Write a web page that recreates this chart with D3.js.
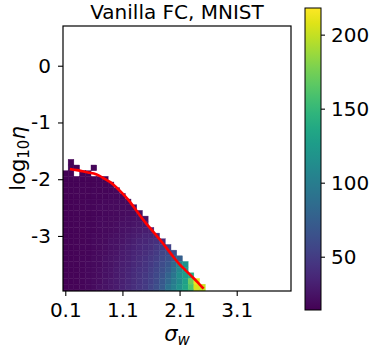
<!DOCTYPE html>
<html>
<head>
<meta charset="utf-8">
<script src="https://cdn.jsdelivr.net/npm/d3@7"></script>
<style>
body{margin:0;background:#fff;}
text{font-family:"DejaVu Sans",sans-serif;fill:#000;}
</style>
</head>
<body>
<svg id="chart" width="372" height="348"></svg>
<script>
// grid columns (sigma_w) and rows (log10 eta), rows listed top -> bottom
var sigmas = [0.1,0.2,0.3,0.4,0.5,0.6,0.7,0.8,0.9,1.0,1.1,1.2,1.3,1.4,1.5,1.6,1.7,1.8,1.9,2.0,2.1,2.2,2.3,2.4,2.5]
var etaRows = [-1.7,-1.8,-1.9,-2.0,-2.1,-2.2,-2.3,-2.4,-2.5,-2.6,-2.7,-2.8,-2.9,-3.0,-3.1,-3.2,-3.3,-3.4,-3.5,-3.6,-3.7,-3.8,-3.9,-4.0]
var _ = null
var counts = [
 [_,16],
 [_,16,15,_,_,17],
 [15,15,_,15,15],
 [15,15,16,15,16,16,17,16],
 [15,15,15,16,16,16,17,16,17],
 [15,15,16,16,16,17,16,17,17,18],
 [15,15,16,16,16,17,17,17,18,18,18],
 [15,15,16,16,17,17,17,18,18,19,19,19],
 [15,15,16,16,17,17,18,18,19,19,20,20,20],
 [15,15,16,16,16,17,17,18,18,19,20,21,21,22],
 [15,15,16,16,16,17,18,18,19,19,21,22,23,24,24],
 [15,15,16,16,17,17,18,19,19,21,22,23,25,26,27],
 [15,15,16,16,17,17,18,19,20,21,23,25,27,28,30,31],
 [15,15,16,16,17,18,18,20,21,22,24,27,29,31,34,35,37],
 [15,15,16,16,17,18,19,20,22,23,25,28,31,34,36,39,42,40],
 [15,15,16,17,17,18,19,21,22,24,27,30,33,36,38,41,46,50,54],
 [15,15,16,16,17,18,20,21,23,25,28,31,34,37,40,44,49,55,60,62],
 [15,15,16,17,17,19,20,22,24,26,29,32,36,39,42,46,51,58,64,70,75],
 [15,16,16,17,18,19,20,22,24,27,30,33,37,40,44,48,54,61,68,82,108,116],
 [15,15,16,17,18,19,21,23,25,28,31,34,38,42,45,50,56,63,72,88,110,122],
 [15,16,16,17,18,19,21,23,25,28,31,35,39,43,47,52,58,66,78,94,114,127,138],
 [15,15,16,17,18,20,21,24,26,29,32,36,40,44,48,53,60,69,82,98,112,130,172,213],
 [15,16,16,17,18,20,22,24,26,29,33,37,41,45,49,55,62,72,90,102,117,133,162,206,201],
 [15,16,16,17,18,20,22,24,27,30,33,37,42,46,50,56,63,75,96,106,120,137,152,200,196]
]
// red boundary curve
var curveSigma = [0.18,0.3,0.4,0.5,0.6,0.7,0.8,0.9,1.0,1.1,1.2,1.3,1.4,1.5,1.6,1.7,1.8,1.9,2.0,2.1,2.2,2.3,2.4,2.52]
var curveEta = [-1.82,-1.84,-1.86,-1.88,-1.9,-1.94,-2.0,-2.06,-2.15,-2.25,-2.36,-2.49,-2.63,-2.76,-2.88,-3.0,-3.12,-3.25,-3.38,-3.5,-3.6,-3.7,-3.8,-3.93]
var xTicks = [0.1,1.1,2.1,3.1]
var yTicks = [0,-1,-2,-3]
var cbTicks = [50,100,150,200]

var plot = {left:63, top:26, right:291, bottom:291}
var cb = {left:305, right:321, top:8, bottom:310}

var svg = d3.select("#chart")

var xScale = d3.scaleLinear().domain([0.06,4.05]).range([plot.left, plot.right])
var yScale = d3.scaleLinear().domain([-3.97,0.70]).range([plot.bottom, plot.top])
var colorScale = d3.scaleSequential(d3.interpolateViridis).domain([14,218])

svg.append("clipPath").attr("id","clip")
  .append("rect")
  .attr("x",plot.left).attr("y",plot.top)
  .attr("width",plot.right-plot.left).attr("height",plot.bottom-plot.top)

var cellData = []
counts.forEach(function(row,r){
  row.forEach(function(v,c){
    if(v!==null && v!==undefined) cellData.push({sigma:sigmas[c], eta:etaRows[r], value:v})
  })
})

var chart = svg.append("g").attr("clip-path","url(#clip)")

chart.selectAll("rect.cell")
  .data(cellData)
  .enter()
  .append("rect")
  .attr("class","cell")
  .attr("x",function(d){return xScale(d.sigma-0.05)})
  .attr("width",function(d){return xScale(d.sigma+0.05)-xScale(d.sigma-0.05)})
  .attr("y",function(d){return yScale(d.eta+0.05)})
  .attr("height",function(d){return yScale(d.eta-0.05)-yScale(d.eta+0.05)})
  .attr("fill",function(d){return colorScale(d.value)})
  .attr("stroke",function(d){return colorScale(d.value)})
  .attr("stroke-width",0.4)

var line = d3.line()
  .x(function(d,i){return xScale(curveSigma[i])})
  .y(function(d){return yScale(d)})
  .curve(d3.curveCatmullRom)

chart.append("path")
  .attr("d",line(curveEta))
  .attr("fill","none")
  .attr("stroke","#ff0000")
  .attr("stroke-width",2.6)

// frame
svg.append("rect")
  .attr("x",plot.left).attr("y",plot.top)
  .attr("width",plot.right-plot.left).attr("height",plot.bottom-plot.top)
  .attr("fill","none").attr("stroke","#000").attr("stroke-width",1.2)

var xAxis = d3.axisBottom(xScale).tickValues(xTicks).tickSize(5).tickSizeOuter(0).tickPadding(7)
  .tickFormat(function(d){return d.toFixed(1)})
var gx = svg.append("g").attr("transform","translate(0,"+plot.bottom+")").call(xAxis)

var yAxis = d3.axisLeft(yScale).tickValues(yTicks).tickSize(5).tickSizeOuter(0).tickPadding(7)
  .tickFormat(function(d){return String(d)})
var gy = svg.append("g").attr("transform","translate("+plot.left+",0)").call(yAxis)

;[gx,gy].forEach(function(g){
  g.select(".domain").remove()
  g.selectAll("line").attr("stroke","#000").attr("stroke-width",1.1)
  g.selectAll("text").style("font-size","20px").attr("fill","#000")
})

// colorbar
var cbScale = d3.scaleLinear().domain([14,218]).range([cb.bottom, cb.top])
var grad = svg.append("defs").append("linearGradient")
  .attr("id","viridis").attr("x1","0").attr("y1","1").attr("x2","0").attr("y2","0")
d3.range(0,1.0001,0.05).forEach(function(t){
  grad.append("stop").attr("offset",t).attr("stop-color",d3.interpolateViridis(t))
})
svg.append("rect")
  .attr("x",cb.left).attr("y",cb.top)
  .attr("width",cb.right-cb.left).attr("height",cb.bottom-cb.top)
  .attr("fill","url(#viridis)").attr("stroke","#000").attr("stroke-width",1)

var cbAxis = d3.axisRight(cbScale).tickValues(cbTicks).tickSize(4).tickSizeOuter(0).tickPadding(6)
var gc = svg.append("g").attr("transform","translate("+cb.right+",0)").call(cbAxis)
gc.select(".domain").remove()
gc.selectAll("line").attr("stroke","#000").attr("stroke-width",1.1)
gc.selectAll("text").style("font-size","20px").attr("fill","#000")

// title and labels
svg.append("text")
  .attr("x",(plot.left+plot.right)/2).attr("y",19)
  .attr("text-anchor","middle").style("font-size","20px")
  .text("Vanilla FC, MNIST")

var xl = svg.append("text")
  .attr("x",(plot.left+plot.right)/2).attr("y",341)
  .attr("text-anchor","middle").style("font-size","21px")
xl.append("tspan").attr("font-style","italic").text("σ")
xl.append("tspan").attr("font-style","italic").attr("dy",4).style("font-size","15px").text("w")

var yl = svg.append("text")
  .attr("transform","translate(25,"+((plot.top+plot.bottom)/2)+") rotate(-90)")
  .attr("text-anchor","middle").style("font-size","21px")
yl.append("tspan").text("log")
yl.append("tspan").attr("dy",4).style("font-size","15px").text("10")
yl.append("tspan").attr("dy",-4).attr("font-style","italic").text("η")
</script>
</body>
</html>
